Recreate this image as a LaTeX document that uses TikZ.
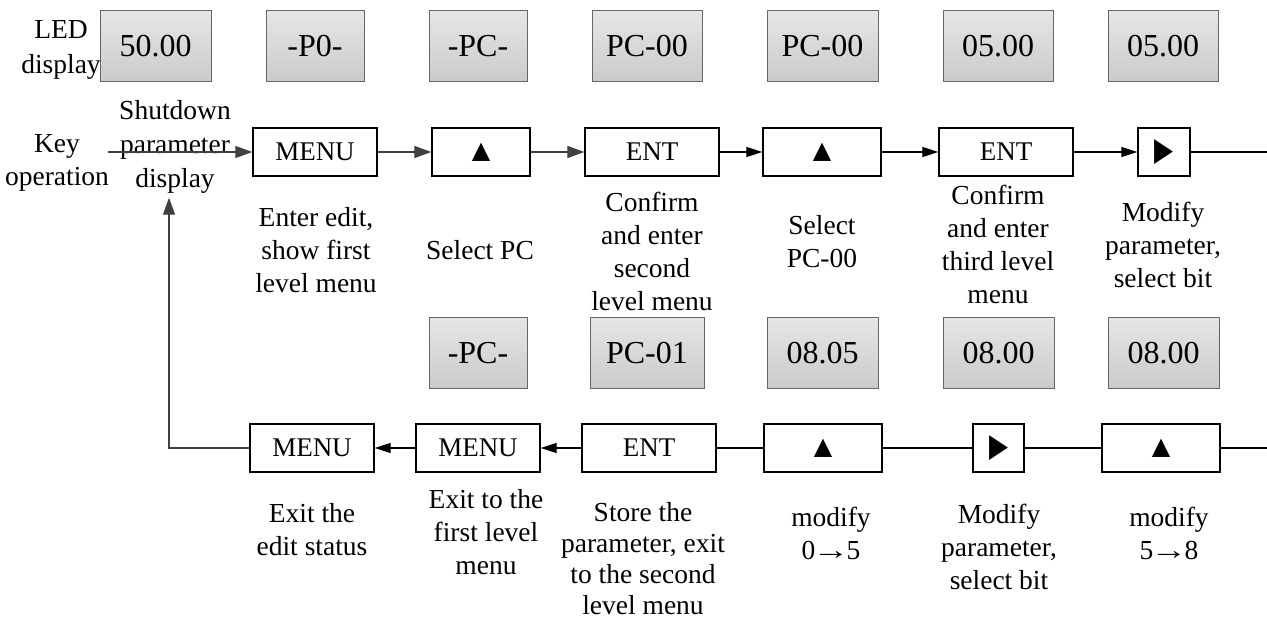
\documentclass[tikz,border=0pt]{standalone}
\usepackage{fontspec}
\setmainfont{Liberation Serif}
\newfontfamily\symfont{DejaVu Sans}
\usetikzlibrary{arrows.meta}
\definecolor{disptop}{HTML}{E6E6E6}
\definecolor{dispbot}{HTML}{CACACA}
\definecolor{dispborder}{HTML}{666666}
\definecolor{arrowgray}{HTML}{404040}
\newcommand{\rarr}{\kern-3pt\scalebox{1.35}[1]{→}\kern-3pt}
\begin{document}
\begin{tikzpicture}[x=1pt,y=-1pt,
  disp/.style={draw=dispborder, line width=1pt, top color=disptop, bottom color=dispbot, minimum height=71pt, inner sep=0pt, font=\fontsize{32}{36}\selectfont},
  keybox/.style={draw=black, line width=1.3pt, fill=white, minimum height=48pt, inner sep=0pt, font=\fontsize{27}{30}\selectfont},
  lbl/.style={align=center, inner sep=0pt, font=\fontsize{27.5}{33}\selectfont},
  garrow/.style={draw=arrowgray, line width=1.2pt, -{Triangle[length=17pt,width=12pt]}},
  barrow/.style={draw=black, line width=1.2pt, -{Triangle[length=16pt,width=10pt]}},
  plainline/.style={draw=black, line width=1.2pt},
  up/.style={font=\symfont\fontsize{24}{24}\selectfont},
  right/.style={font=\symfont\fontsize{26}{26}\selectfont}
]
\useasboundingbox (0,0) rectangle (1267,623);

% top display row
\node[disp, minimum width=111pt] (d1) at (155.5,46.5) {50.00};
\node[disp, minimum width=98pt]  (d2) at (315,46.5) {-P0-};
\node[disp, minimum width=98pt]  (d3) at (478,46.5) {-PC-};
\node[disp, minimum width=110pt] (d4) at (647,46.5) {PC-00};
\node[disp, minimum width=111pt] (d5) at (822.5,46.5) {PC-00};
\node[disp, minimum width=110pt] (d6) at (998,46.5) {05.00};
\node[disp, minimum width=110pt] (d7) at (1163,46.5) {05.00};

% side labels
\node[lbl, font=\fontsize{27.5}{35}\selectfont] (led) at (61,50) {LED\\display};
\node[lbl, font=\fontsize{27.5}{33}\selectfont] (keyop) at (57,163) {Key\\operation};
\node[lbl, font=\fontsize{27.5}{34}\selectfont] (shut) at (175,147) {Shutdown\\parameter\\display};
\coordinate (kstart) at (108,152);

% top key row
\node[keybox, minimum width=124pt] (k1) at (315,152) {MENU};
\node[keybox, minimum width=98pt, up]  (k2) at (481,152) {▲};
\node[keybox, minimum width=134pt] (k3) at (652,152) {ENT};
\node[keybox, minimum width=118pt, up] (k4) at (822,152) {▲};
\node[keybox, minimum width=134pt] (k5) at (1006,152) {ENT};
\node[keybox, minimum width=52pt, right] (k6) at (1164,152) {\scalebox{0.95}[1.25]{▶}};
\coordinate (kend) at (1267,152);

% top descriptions
\node[lbl] (t1) at (316,250) {Enter edit,\\show first\\level menu};
\node[lbl] (t2) at (480,250) {Select PC};
\node[lbl] (t3) at (652,251) {Confirm\\and enter\\second\\level menu};
\node[lbl] (t4) at (822,242) {Select\\PC-00};
\node[lbl] (t5) at (998,244) {Confirm\\and enter\\third level\\menu};
\node[lbl] (t6) at (1163,245) {Modify\\parameter,\\select bit};

% bottom display row
\node[disp, minimum width=98pt]  (e1) at (478,353) {-PC-};
\node[disp, minimum width=114pt] (e2) at (647,353) {PC-01};
\node[disp, minimum width=111pt] (e3) at (822.5,353) {08.05};
\node[disp, minimum width=111pt] (e4) at (998.5,353) {08.00};
\node[disp, minimum width=111pt] (e5) at (1163.5,353) {08.00};

% bottom key row
\node[keybox, minimum width=124pt] (b1) at (312,448) {MENU};
\node[keybox, minimum width=124pt] (b2) at (478,448) {MENU};
\node[keybox, minimum width=134pt] (b3) at (649,448) {ENT};
\node[keybox, minimum width=118pt, up] (b4) at (823,448) {▲};
\node[keybox, minimum width=51pt, right] (b5) at (998.5,448) {\scalebox{0.95}[1.25]{▶}};
\node[keybox, minimum width=118pt, up] (b6) at (1161,448) {▲};
\coordinate (bend) at (1267,448);
\coordinate (corner) at (169,448);

% bottom descriptions
\node[lbl] (s1) at (312,530) {Exit the\\edit status};
\node[lbl] (s2) at (486,532) {Exit to the\\first level\\menu};
\node[lbl, font=\fontsize{27.5}{31}\selectfont] (s3) at (643,559) {Store the\\parameter, exit\\to the second\\level menu};
\node[lbl] (s4) at (831,533) {modify\\0\rarr5};
\node[lbl] (s5) at (999,547) {Modify\\parameter,\\select bit};
\node[lbl] (s6) at (1169,533) {modify\\5\rarr8};

% connectors top
\draw[garrow] (kstart) -- (k1.west);
\draw[garrow] (k1) -- (k2);
\draw[garrow] (k2) -- (k3);
\draw[barrow] (k3) -- (k4);
\draw[barrow] (k4) -- (k5);
\draw[barrow] (k5) -- (k6);
\draw[plainline] (k6) -- (kend);

% connectors bottom
\draw[plainline] (bend) -- (b6);
\draw[plainline] (b6) -- (b5);
\draw[plainline] (b5) -- (b4);
\draw[plainline] (b4) -- (b3);
\draw[barrow] (b3) -- (b2);
\draw[barrow] (b2) -- (b1);
\draw[garrow, shorten >=4pt] (b1.west) -- (corner) -- (shut.south -| corner);
\end{tikzpicture}
\end{document}
